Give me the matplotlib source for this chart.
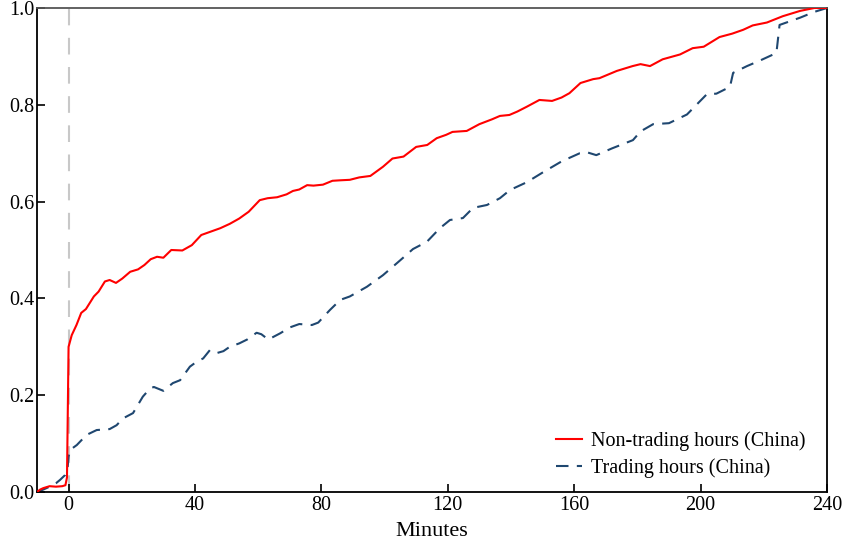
import matplotlib
matplotlib.use("Agg")
import matplotlib.pyplot as plt

# Non-trading hours (China)
nt_min = [-10, -9, -8, -6, -4, -2, -1, -0.5, 0, 1, 2.5, 4, 5.5, 8, 9.5, 11.5, 13, 15, 17, 19.5,
          22, 24, 26, 28, 30, 32.5, 36, 39, 42, 45, 48, 51, 54, 57, 60.5, 63, 66, 69, 71, 73,
          75.5, 77.5, 80.5, 83.5, 86, 89, 92, 95.5, 99.5, 102.5, 106, 110, 113.5, 116.5, 119.5,
          121.5, 126, 130, 134, 136.5, 139.5, 142, 145, 149, 153, 156, 158.5, 162, 166, 168,
          173.5, 178.5, 181, 184, 188, 193.5, 197.5, 201, 206, 210, 213.5, 216.5, 221, 226,
          231.5, 236, 240]
nt_val = [0.0, 0.005, 0.008, 0.012, 0.011, 0.012, 0.014, 0.03, 0.30, 0.324, 0.345, 0.37, 0.378,
          0.404, 0.414, 0.435, 0.438, 0.432, 0.441, 0.455, 0.46, 0.469, 0.481, 0.486, 0.484,
          0.50, 0.499, 0.51, 0.531, 0.538, 0.545, 0.554, 0.565, 0.579, 0.603, 0.607, 0.609,
          0.615, 0.622, 0.625, 0.634, 0.633, 0.635, 0.643, 0.644, 0.645, 0.65, 0.653, 0.672,
          0.689, 0.693, 0.713, 0.717, 0.731, 0.738, 0.744, 0.746, 0.76, 0.77, 0.777, 0.779,
          0.786, 0.796, 0.81, 0.808, 0.815, 0.824, 0.845, 0.853, 0.855, 0.87, 0.88, 0.884,
          0.88, 0.894, 0.904, 0.917, 0.92, 0.94, 0.947, 0.955, 0.964, 0.97, 0.983, 0.994,
          1.0, 1.0]

# Trading hours (China)
tr_min = [-10, -8, -6, -4, -2.7, -1.1, -0.3, 0, 0.5, 2.6, 5.7, 8.9, 13, 15.2, 17.2, 20.4, 23.5,
          25.8, 27, 30, 33, 35.3, 38.4, 40.5, 42.6, 44.7, 46.9, 49, 51, 54, 56.5, 59.5, 61,
          63.2, 67, 70, 73, 77, 79, 82.7, 86, 89, 94.4, 99.5, 105, 109, 113.4, 117.5, 120.7,
          124.8, 128, 132.4, 136.5, 139.7, 145, 150, 156, 161.8, 164, 167, 172, 178.6, 181,
          185, 190, 195.7, 202, 205, 209.3, 210.3, 214.7, 219, 224, 225, 231.5, 236, 240]
tr_val = [0.0, 0.005, 0.011, 0.018, 0.025, 0.035, 0.05, 0.073, 0.087, 0.097, 0.118, 0.128, 0.13,
          0.138, 0.152, 0.163, 0.197, 0.214, 0.217, 0.209, 0.225, 0.231, 0.259, 0.269, 0.276,
          0.293, 0.287, 0.291, 0.30, 0.307, 0.315, 0.329, 0.326, 0.315, 0.328, 0.34, 0.347,
          0.345, 0.35, 0.376, 0.397, 0.404, 0.424, 0.448, 0.479, 0.502, 0.517, 0.545, 0.562,
          0.566, 0.587, 0.593, 0.607, 0.624, 0.64, 0.66, 0.683, 0.70, 0.702, 0.696, 0.71,
          0.727, 0.745, 0.76, 0.762, 0.78, 0.822, 0.823, 0.837, 0.866, 0.88, 0.892, 0.907,
          0.965, 0.98, 0.992, 1.0]

x_ticks = [0, 40, 80, 120, 160, 200, 240]
y_ticks = [0.0, 0.2, 0.4, 0.6, 0.8, 1.0]

plt.rcParams['font.family'] = ['Liberation Serif', 'DejaVu Serif']

fig = plt.figure(figsize=(8.46, 5.44), dpi=100)
ax = fig.add_axes([0.0437, 0.0956, 0.9338, 0.8897])

ax.axvline(0, color='#c8c8c8', lw=1.5, dashes=(8, 6), zorder=1)
ax.plot(nt_min, nt_val, color='#ff0000', lw=1.5, label='Non-trading hours (China)', zorder=3)
ax.plot(tr_min, tr_val, color='#1f4770', lw=1.5, dashes=(6, 4), label='Trading hours (China)', zorder=2)

ax.set_xlim(-10, 240)
ax.set_ylim(0, 1)
ax.set_xticks(x_ticks)
ax.set_xticklabels([str(t) for t in x_ticks])
ax.set_yticks(y_ticks)
ax.set_yticklabels([f"{t:.1f}" for t in y_ticks])
ax.tick_params(direction='in', length=6, width=1.2, labelsize=14.5, pad=3,
               top=False, right=False)
ax.tick_params(axis='y', pad=2)
ax.set_xlabel('Minutes', fontsize=16, labelpad=5)

for s in ['left', 'bottom', 'right']:
    ax.spines[s].set_color('black')
    ax.spines[s].set_linewidth(1.3)
ax.spines['top'].set_color('#555555')
ax.spines['top'].set_linewidth(1.3)

leg = ax.legend(loc='lower right', frameon=False, fontsize=14.5, handlelength=1.3,
                bbox_to_anchor=(0.9835, 0.012), borderaxespad=0, handletextpad=0.45,
                labelspacing=0.35)

fig.savefig('out.png', dpi=100)
